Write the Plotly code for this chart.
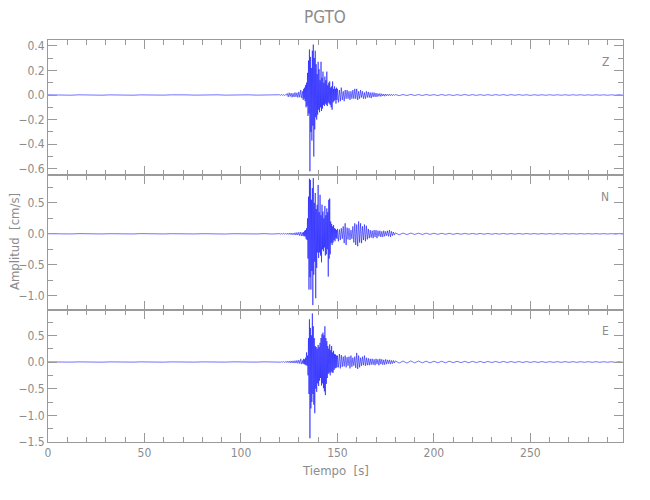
import numpy as np
import plotly.graph_objects as go
from plotly.subplots import make_subplots

t_seg1 = np.arange(0.0, 120.0, 4.0)     # quiet pre-event
t_seg2 = np.arange(120.0, 132.0, 0.5)   # onset
t_seg3 = np.arange(132.0, 150.0, 0.25)  # strong motion
t_seg4 = np.arange(150.0, 180.0, 0.5)   # coda
t_seg5 = np.arange(180.0, 300.0, 2.0)   # tail

# ---- Z component (cm/s) ----
z_seg1 = [0.0015, -0.001, 0.001, -0.0015, 0.0015, -0.001, 0.001, -0.0015, 0.001, -0.001,
          0.0015, -0.0015, 0.001, -0.001, 0.0015, -0.001, 0.0015, -0.0015, 0.001, -0.001,
          0.001, -0.0015, 0.0015, -0.001, 0.001, -0.0015, 0.0015, -0.001, 0.001, -0.0015]
z_seg2 = [0.002, -0.002, 0.003, -0.002, 0.003, -0.003, 0.003, -0.002,
          0.012, -0.015, 0.018, -0.012, 0.015, -0.018, 0.014, -0.016,
          0.02, -0.015, 0.018, -0.02, 0.025, -0.018, 0.04, -0.025]
z_seg3 = [0.03, -0.04, 0.05, -0.03, 0.06, -0.05, 0.08, -0.10, 0.10, -0.09,
          0.18, -0.17, 0.28, -0.15, 0.37, -0.62, 0.31, -0.30, 0.22, -0.37,
          0.36, -0.25, 0.41, -0.50, 0.30, -0.28, 0.36, -0.18, 0.25, -0.20,
          0.17, -0.16, 0.27, -0.12, 0.21, -0.14, 0.12, -0.10, 0.27, -0.13,
          0.14, -0.11, 0.19, -0.08, 0.10, -0.09, 0.15, -0.07, 0.12, -0.08,
          0.19, -0.09, 0.08, -0.06, 0.10, -0.07, 0.11, -0.08, 0.06, -0.10,
          0.07, -0.12, 0.11, -0.06, 0.05, -0.05, 0.07, -0.04, 0.05, -0.07,
          0.06, -0.04]
z_seg4 = [0.05, -0.06, 0.04, -0.05, 0.06, -0.04, 0.03, -0.05, 0.04, -0.03,
          0.04, -0.03, 0.03, -0.04, 0.03, -0.03, 0.04, -0.03, 0.05, -0.03,
          0.05, -0.04, 0.03, -0.03, 0.04, -0.02, 0.03, -0.03, 0.02, -0.03,
          0.03, -0.02, 0.025, -0.02, 0.02, -0.025, 0.02, -0.015, 0.02, -0.015,
          0.015, -0.015, 0.012, -0.01, 0.012, -0.012, 0.01, -0.008, 0.008, -0.01,
          0.008, -0.006, 0.006, -0.006, 0.007, -0.005, 0.005, -0.005, 0.005, -0.004]
z_seg5 = [0.004, -0.005, 0.004, -0.004, 0.005, -0.004, 0.004, -0.004, 0.004, -0.003,
          0.003, -0.004, 0.004, -0.003, 0.003, -0.004, 0.003, -0.003, 0.004, -0.003,
          0.003, -0.003, 0.003, -0.003, 0.003, -0.003, 0.003, -0.002, 0.003, -0.003,
          0.003, -0.002, 0.003, -0.002, 0.002, -0.003, 0.002, -0.002, 0.002, -0.002,
          0.002, -0.002, 0.002, -0.002, 0.002, -0.002, 0.002, -0.0015, 0.002, -0.002,
          0.0015, -0.002, 0.002, -0.0015, 0.0015, -0.002, 0.0015, -0.0015, 0.002, -0.0015]

# ---- N component (cm/s) ----
n_seg1 = [0.002, -0.002, 0.002, -0.002, 0.003, -0.002, 0.002, -0.002, 0.002, -0.003,
          0.002, -0.002, 0.003, -0.002, 0.002, -0.002, 0.002, -0.003, 0.003, -0.002,
          0.002, -0.002, 0.003, -0.003, 0.002, -0.002, 0.003, -0.002, 0.003, -0.003]
n_seg2 = [0.003, -0.004, 0.004, -0.005, 0.006, -0.005, 0.007, -0.008,
          0.010, -0.009, 0.012, -0.011, 0.014, -0.015, 0.012, -0.016,
          0.018, -0.02, 0.022, -0.02, 0.025, -0.03, 0.03, -0.035]
n_seg3 = [0.02, -0.03, 0.03, -0.04, 0.05, -0.04, 0.06, -0.08, 0.09, -0.10,
          0.25, -0.40, 0.60, -0.90, 0.89, -0.70, 0.87, -0.90, 0.55, -0.60,
          0.74, -1.15, 0.90, -0.66, 0.50, -0.45, 0.66, -1.04, 0.40, -0.55,
          0.47, -0.30, 0.79, -0.39, 0.35, -0.30, 0.63, -0.35, 0.30, -0.46,
          0.47, -0.25, 0.36, -0.28, 0.25, -0.22, 0.45, -0.35, 0.30, -0.33,
          0.41, -0.25, 0.35, -0.69, 0.55, -0.40, 0.57, -0.33, 0.20, -0.15,
          0.16, -0.18, 0.12, -0.14, 0.14, -0.10, 0.09, -0.12, 0.08, -0.07,
          0.06, -0.08]
n_seg4 = [0.08, -0.12, 0.07, -0.10, 0.09, -0.08, 0.12, -0.15, 0.17, -0.18,
          0.10, -0.09, 0.09, -0.10, 0.06, -0.08, 0.12, -0.14, 0.17, -0.18,
          0.15, -0.20, 0.20, -0.14, 0.17, -0.15, 0.12, -0.10, 0.15, -0.12,
          0.13, -0.09, 0.08, -0.07, 0.06, -0.06, 0.05, -0.07, 0.06, -0.05,
          0.06, -0.07, 0.05, -0.04, 0.05, -0.05, 0.04, -0.05, 0.05, -0.04,
          0.04, -0.03, 0.05, -0.04, 0.06, -0.05, 0.04, -0.03, 0.03, -0.02]
n_seg5 = [0.015, -0.015, 0.012, -0.012, 0.012, -0.01, 0.01, -0.01, 0.01, -0.009,
          0.009, -0.008, 0.008, -0.007, 0.008, -0.008, 0.007, -0.007, 0.007, -0.006,
          0.006, -0.006, 0.006, -0.006, 0.005, -0.006, 0.005, -0.005, 0.006, -0.005,
          0.005, -0.005, 0.005, -0.004, 0.005, -0.004, 0.004, -0.004, 0.004, -0.004,
          0.004, -0.004, 0.004, -0.004, 0.004, -0.003, 0.003, -0.004, 0.004, -0.003,
          0.003, -0.003, 0.003, -0.003, 0.003, -0.003, 0.003, -0.003, 0.003, -0.003]

# ---- E component (cm/s) ----
e_seg1 = [0.002, -0.002, 0.003, -0.002, 0.002, -0.002, 0.002, -0.003, 0.002, -0.002,
          0.003, -0.002, 0.002, -0.002, 0.002, -0.003, 0.002, -0.002, 0.003, -0.002,
          0.002, -0.003, 0.002, -0.002, 0.003, -0.002, 0.002, -0.002, 0.003, -0.003]
e_seg2 = [0.003, -0.003, 0.004, -0.004, 0.008, -0.007, 0.010, -0.012,
          0.015, -0.012, 0.018, -0.015, 0.020, -0.018, 0.022, -0.02,
          0.025, -0.02, 0.03, -0.025, 0.035, -0.03, 0.06, -0.04]
e_seg3 = [0.03, -0.03, 0.06, -0.04, 0.05, -0.05, 0.08, -0.06, 0.18, -0.07,
          0.12, -0.25, 0.45, -0.60, 0.80, -1.43, 0.64, -0.87, 0.50, -0.75,
          0.91, -0.60, 0.67, -0.80, 0.45, -0.96, 0.30, -0.50, 0.28, -0.56,
          0.25, -0.40, 0.32, -0.45, 0.28, -0.35, 0.36, -0.30, 0.45, -0.44,
          0.52, -0.40, 0.55, -0.49, 0.50, -0.55, 0.67, -0.62, 0.45, -0.41,
          0.39, -0.30, 0.30, -0.22, 0.25, -0.20, 0.33, -0.25, 0.22, -0.18,
          0.30, -0.20, 0.18, -0.20, 0.21, -0.15, 0.15, -0.12, 0.14, -0.11,
          0.12, -0.10]
e_seg4 = [0.12, -0.10, 0.15, -0.12, 0.13, -0.09, 0.10, -0.08, 0.12, -0.10,
          0.09, -0.07, 0.10, -0.12, 0.12, -0.09, 0.08, -0.07, 0.10, -0.11,
          0.17, -0.13, 0.12, -0.10, 0.08, -0.07, 0.10, -0.06, 0.12, -0.07,
          0.08, -0.06, 0.07, -0.06, 0.06, -0.05, 0.06, -0.05, 0.05, -0.06,
          0.06, -0.04, 0.05, -0.06, 0.06, -0.04, 0.05, -0.05, 0.04, -0.05,
          0.05, -0.04, 0.04, -0.03, 0.04, -0.04, 0.03, -0.03, 0.03, -0.02]
e_seg5 = [0.02, -0.02, 0.018, -0.02, 0.02, -0.015, 0.018, -0.016, 0.015, -0.016,
          0.014, -0.014, 0.013, -0.014, 0.014, -0.012, 0.013, -0.012, 0.012, -0.013,
          0.012, -0.011, 0.011, -0.012, 0.01, -0.01, 0.01, -0.01, 0.01, -0.009,
          0.009, -0.009, 0.009, -0.009, 0.008, -0.008, 0.008, -0.008, 0.008, -0.008,
          0.007, -0.007, 0.007, -0.007, 0.007, -0.006, 0.007, -0.007, 0.006, -0.006,
          0.006, -0.006, 0.006, -0.006, 0.006, -0.005, 0.005, -0.006, 0.005, -0.005]

components = ["Z", "N", "E"]
station = "PGTO"

t = np.concatenate([t_seg1, t_seg2, t_seg3, t_seg4, t_seg5])
traces = {
    "Z": np.concatenate([z_seg1, z_seg2, z_seg3, z_seg4, z_seg5]),
    "N": np.concatenate([n_seg1, n_seg2, n_seg3, n_seg4, n_seg5]),
    "E": np.concatenate([e_seg1, e_seg2, e_seg3, e_seg4, e_seg5]),
}

# ---- styling ----
FONT = "Liberation Sans Narrow, DejaVu Sans Condensed, Liberation Sans, sans-serif"
GREY = "#8c8c8c"
AX = "#9a9a9a"
BLUE = "rgb(20,20,255)"

fig = make_subplots(rows=3, cols=1, shared_xaxes=True, vertical_spacing=0)

for i, c in enumerate(components, start=1):
    fig.add_trace(go.Scatter(x=t, y=traces[c], mode="lines",
                             line=dict(color=BLUE, width=0.6),
                             showlegend=False, hoverinfo="skip"),
                  row=i, col=1)

total = 402.0
doms = [(267 / total, 1.0), (132 / total, 267 / total), (0.0, 132 / total)]
yranges = [(-0.65, 0.447), (-1.23, 0.95), (-1.5, 0.975)]
ydticks = [0.2, 0.5, 0.5]
yminor = [0.1, 0.25, 0.25]

common_axis = dict(showline=True, linecolor=AX, linewidth=1, mirror="ticks",
                   ticks="inside", tickcolor=AX, tickwidth=1,
                   showgrid=False, zeroline=False, automargin=False,
                   tickfont=dict(family=FONT, size=12, color=GREY))

for i in range(3):
    yname = "yaxis" if i == 0 else f"yaxis{i + 1}"
    xname = "xaxis" if i == 0 else f"xaxis{i + 1}"
    fig.layout[yname].update(domain=list(doms[i]), range=list(yranges[i]),
                             dtick=ydticks[i], tick0=0, tickformat=".1f",
                             ticklen=9,
                             minor=dict(ticks="inside", dtick=yminor[i], tick0=0,
                                        ticklen=5, tickcolor=AX),
                             **common_axis)
    fig.layout[xname].update(range=[0, 298], dtick=50, tick0=0, ticklen=9,
                             minor=dict(ticks="inside", dtick=10, tick0=0,
                                        ticklen=5, tickcolor=AX),
                             showticklabels=(i == 2),
                             **common_axis)

# axis titles
fig.add_annotation(text="Tiempo  [s]", xref="paper", yref="paper",
                   x=0.5, y=-0.07, xanchor="center", yanchor="middle", showarrow=False,
                   font=dict(family=FONT, size=13, color=GREY))
fig.add_annotation(text="Amplitud  [cm/s]", xref="paper", yref="paper",
                   x=-0.059, y=0.4975, xanchor="center", yanchor="middle", showarrow=False,
                   textangle=-90, font=dict(family=FONT, size=13, color=GREY))

for i, c in enumerate(components, start=1):
    yref = "y domain" if i == 1 else f"y{i} domain"
    xref = "x domain" if i == 1 else f"x{i} domain"
    fig.add_annotation(text=c, xref=xref, yref=yref, x=0.969, y=0.84,
                       showarrow=False, xanchor="center", yanchor="middle",
                       font=dict(family=FONT, size=12, color=GREY))

fig.update_layout(
    width=650, height=500,
    paper_bgcolor="white", plot_bgcolor="white",
    margin=dict(l=48, r=27, t=40, b=58),
    title=dict(text=station, x=0.5, xanchor="center", y=0.965, yanchor="middle",
               font=dict(family=FONT, size=17, color=GREY)),
)

fig.write_html("out.html", config={"displayModeBar": False},
               post_script="document.body.style.margin='0';document.body.style.padding='0';")
